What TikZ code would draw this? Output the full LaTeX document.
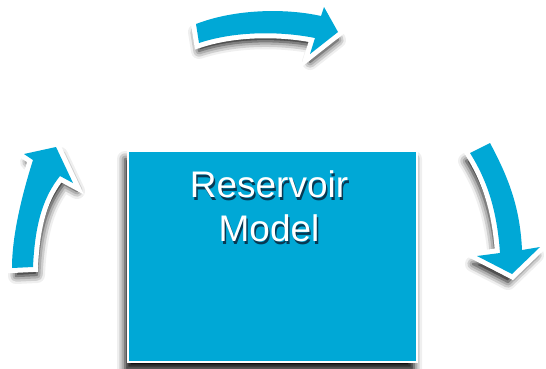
\documentclass[tikz,border=0pt]{standalone}
\usepackage{fontspec}
\setmainfont{Liberation Sans}
\usetikzlibrary{shadows.blur, positioning}
\definecolor{reservoirblue}{RGB}{0,168,214}
\definecolor{shadowink}{RGB}{10,20,40}

\begin{document}
\begin{tikzpicture}[
        x=1pt, y=-1pt,
        softshadow/.style={blur shadow={shadow xshift=#1, shadow yshift=-8pt,
                shadow blur radius=8pt, shadow opacity=100}},
        softshadow/.default=0pt,
        cyclearrow/.style={fill=reservoirblue,
                preaction={draw=white, line width=10pt, line join=miter}},
        modelbox/.style={rectangle, fill=reservoirblue, draw=white, line width=1.5pt,
                minimum width=289pt, minimum height=211pt, inner sep=0pt},
        title/.style={align=center, inner sep=0pt, text=white,
                font=\fontsize{37}{44}\selectfont}
    ]
    \useasboundingbox (0,0) rectangle (546,368);

    %% ---- Model box ----
    \node[modelbox, softshadow=-3pt] (box) at (272.5,256.5) {};

    %% ---- Title, with its shadow ----
    \node[title, text=shadowink, opacity=0.75, below=23pt of box.north, xshift=-2pt] (titleshadow) {Reservoir\\Model};
    \node[title, below=20pt of box.north, xshift=-3.5pt] (title) {Reservoir\\Model};

    %% ---- Top arrow ----
    \path[softshadow, cyclearrow]
    (196,24) .. controls (235,9) and (285,8) .. (321,16)
    -- (324,7) -- (338,32) -- (310,54) -- (315,38)
    .. controls (280,31) and (235,31) .. (199,43) -- cycle;

    %% ---- Left arrow ----
    \path[softshadow=4pt, cyclearrow]
    (12,268) .. controls (12,235) and (22,195) .. (33,160)
    -- (24,154) -- (56,147) -- (73,183) -- (60,176)
    .. controls (44,196) and (35,222) .. (33,267) -- cycle;

    %% ---- Right arrow ----
    \path[softshadow=-4pt, cyclearrow]
    (470,153) -- (490,143) .. controls (507,175) and (520,205) .. (522,250)
    -- (540,247) -- (512,274) -- (477,256) -- (500,253)
    .. controls (497,210) and (487,180) .. (470,153) -- cycle;

\end{tikzpicture}
\end{document}
